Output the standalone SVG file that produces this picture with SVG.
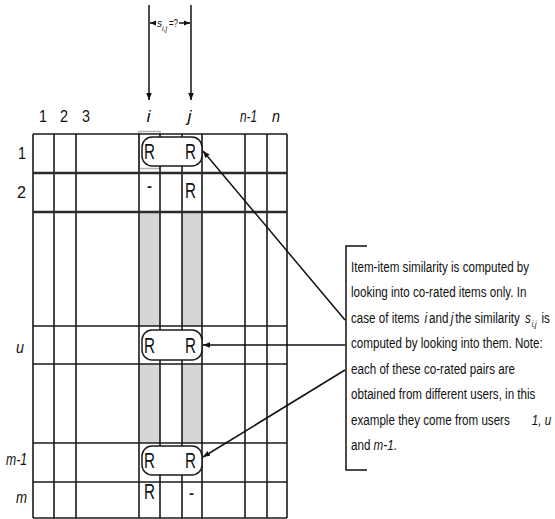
<svg xmlns="http://www.w3.org/2000/svg" width="555" height="519" viewBox="0 0 555 519">
<style>
  text { font-family: "Liberation Sans", Arial, sans-serif; fill: #111; }
  .g { stroke: #1a1a1a; stroke-width: 1.6; fill: none; }
  .gt { stroke: #2a2a2a; stroke-width: 2.3; fill: none; }
  .shade { fill: #d6d6d6; stroke: none; }
  .pair { fill: #fff; stroke: #1a1a1a; stroke-width: 1.5; }
  .r { font-size: 22px; }
  .lbl { font-size: 17px; }
  .it { font-style: italic; }
  .p { font-size: 15.5px; }
  .con { stroke: #111; stroke-width: 1.5; fill: none; }
</style>
<defs>
  <marker id="ah" viewBox="0 0 10 10" refX="10" refY="5" markerWidth="7" markerHeight="7" markerUnits="userSpaceOnUse" orient="auto">
    <path d="M0,1 L10,5 L0,9 z" fill="#111"/>
  </marker>
  <marker id="ahs" viewBox="0 0 10 10" refX="10" refY="5" markerWidth="6" markerHeight="6" markerUnits="userSpaceOnUse" orient="auto-start-reverse">
    <path d="M0,1 L10,5 L0,9 z" fill="#111"/>
  </marker>
</defs>
<rect width="555" height="519" fill="#fff"/>

<g id="matrix">
  <rect class="shade" x="139" y="212" width="21" height="114"/>
  <rect class="shade" x="182" y="212" width="20" height="114"/>
  <rect class="shade" x="139" y="364" width="21" height="79"/>
  <rect class="shade" x="182" y="364" width="20" height="79"/>
  <rect x="139" y="131.5" width="21" height="37" fill="none" stroke="#b5b5b5" stroke-width="1.5"/>
  <g class="g">
    <line x1="33" y1="134" x2="33" y2="518"/>
    <line x1="54" y1="134" x2="54" y2="518"/>
    <line x1="76" y1="134" x2="76" y2="518"/>
    <line x1="139" y1="134" x2="139" y2="518"/>
    <line x1="160" y1="134" x2="160" y2="518"/>
    <line x1="182" y1="134" x2="182" y2="518"/>
    <line x1="202" y1="134" x2="202" y2="518"/>
    <line x1="245" y1="134" x2="245" y2="518"/>
    <line x1="267" y1="134" x2="267" y2="518"/>
    <line x1="287" y1="134" x2="287" y2="518"/>
    <line x1="33" y1="134" x2="287" y2="134"/>
    <line x1="33" y1="326" x2="287" y2="326"/>
    <line x1="33" y1="364" x2="287" y2="364"/>
    <line x1="33" y1="443" x2="287" y2="443"/>
    <line x1="33" y1="482" x2="287" y2="482"/>
    <line x1="33" y1="518" x2="287" y2="518"/>
  </g>
  <g class="gt">
    <line x1="33" y1="173" x2="287" y2="173"/>
    <line x1="33" y1="212" x2="287" y2="212"/>
  </g>
</g>

<g id="col-labels">
  <text class="lbl" x="39" y="122" textLength="8" lengthAdjust="spacingAndGlyphs">1</text>
  <text class="lbl" x="60" y="122" textLength="8" lengthAdjust="spacingAndGlyphs">2</text>
  <text class="lbl" x="82" y="122" textLength="8" lengthAdjust="spacingAndGlyphs">3</text>
  <text class="lbl it" x="146.5" y="122" textLength="4" lengthAdjust="spacingAndGlyphs">i</text>
  <text class="lbl it" x="187.5" y="122" textLength="4" lengthAdjust="spacingAndGlyphs">j</text>
  <text class="lbl it" x="240" y="122" textLength="17" lengthAdjust="spacingAndGlyphs">n-1</text>
  <text class="lbl it" x="272" y="122" textLength="8" lengthAdjust="spacingAndGlyphs">n</text>
</g>

<g id="row-labels">
  <text class="lbl" x="18" y="159" textLength="8" lengthAdjust="spacingAndGlyphs">1</text>
  <text class="lbl" x="17" y="198" textLength="9" lengthAdjust="spacingAndGlyphs">2</text>
  <text class="lbl it" x="16" y="353" textLength="8" lengthAdjust="spacingAndGlyphs">u</text>
  <text class="lbl it" x="6" y="465" textLength="21" lengthAdjust="spacingAndGlyphs">m-1</text>
  <text class="lbl it" x="16" y="503" textLength="11" lengthAdjust="spacingAndGlyphs">m</text>
</g>

<g id="pair-1">
  <rect class="pair" x="142" y="137" width="60" height="29" rx="10"/>
  <text class="r" x="144" y="159" textLength="11" lengthAdjust="spacingAndGlyphs">R</text>
  <text class="r" x="185" y="159" textLength="11" lengthAdjust="spacingAndGlyphs">R</text>
</g>
<g id="row-2">
  <text class="r" x="147" y="193" textLength="5" lengthAdjust="spacingAndGlyphs">-</text>
  <text class="r" x="185" y="198" textLength="11" lengthAdjust="spacingAndGlyphs">R</text>
</g>
<g id="pair-u">
  <rect class="pair" x="142" y="330" width="60" height="30" rx="10"/>
  <text class="r" x="144" y="353" textLength="11" lengthAdjust="spacingAndGlyphs">R</text>
  <text class="r" x="185" y="353" textLength="11" lengthAdjust="spacingAndGlyphs">R</text>
</g>
<g id="pair-m1">
  <rect class="pair" x="142" y="446" width="60" height="29" rx="10"/>
  <text class="r" x="144" y="468" textLength="11" lengthAdjust="spacingAndGlyphs">R</text>
  <text class="r" x="185" y="468" textLength="11" lengthAdjust="spacingAndGlyphs">R</text>
</g>
<g id="row-m">
  <text class="r" x="144" y="499" textLength="11" lengthAdjust="spacingAndGlyphs">R</text>
  <text class="r" x="189" y="500" textLength="5" lengthAdjust="spacingAndGlyphs">-</text>
</g>

<g id="similarity-label">
  <text x="157" y="27" font-size="11" class="it" textLength="5" lengthAdjust="spacingAndGlyphs">s</text>
  <text x="162" y="31" font-size="7" class="it">i,j</text>
  <text x="169" y="27" font-size="11" textLength="9" lengthAdjust="spacingAndGlyphs">=?</text>
</g>

<g id="note">
  <polyline class="con" points="367,246 346,246 346,470 367,470"/>
  <g transform="translate(351,0) scale(0.75,1)">
    <text class="p" x="0" y="272">Item-item similarity is computed by</text>
    <text class="p" x="0" y="297">looking into co-rated items only. In</text>
    <text class="p" x="0" y="323">case of items</text>
    <text class="p it" x="98" y="323">i</text>
    <text class="p" x="104" y="323">and</text>
    <text class="p it" x="133" y="323">j</text>
    <text class="p" x="139" y="323">the similarity</text>
    <text class="p it" x="232" y="323">s</text>
    <text class="it" x="241" y="327" font-size="9">i,j</text>
    <text class="p" x="254" y="323">is</text>
    <text class="p" x="0" y="348">computed by looking into them. Note:</text>
    <text class="p" x="0" y="374">each of these co-rated pairs are</text>
    <text class="p" x="0" y="399">obtained from different users, in this</text>
    <text class="p" x="0" y="425">example they come from users</text>
    <text class="p it" x="241" y="425">1, u</text>
    <text class="p" x="0" y="450">and <tspan class="it">m-1</tspan>.</text>
  </g>
</g>

<g id="connectors">
  <line class="con" x1="149" y1="5" x2="149" y2="100" marker-end="url(#ah)"/>
  <line class="con" x1="191" y1="5" x2="191" y2="100" marker-end="url(#ah)"/>
  <line class="con" x1="156" y1="23" x2="150" y2="23" stroke-width="1" marker-end="url(#ahs)"/>
  <line class="con" x1="179" y1="23" x2="190" y2="23" stroke-width="1" marker-end="url(#ahs)"/>
  <line class="con" x1="345" y1="320" x2="203" y2="151" marker-end="url(#ah)"/>
  <line class="con" x1="345" y1="345" x2="203" y2="345" marker-end="url(#ah)"/>
  <line class="con" x1="345" y1="370" x2="203" y2="457" marker-end="url(#ah)"/>
</g>
</svg>
